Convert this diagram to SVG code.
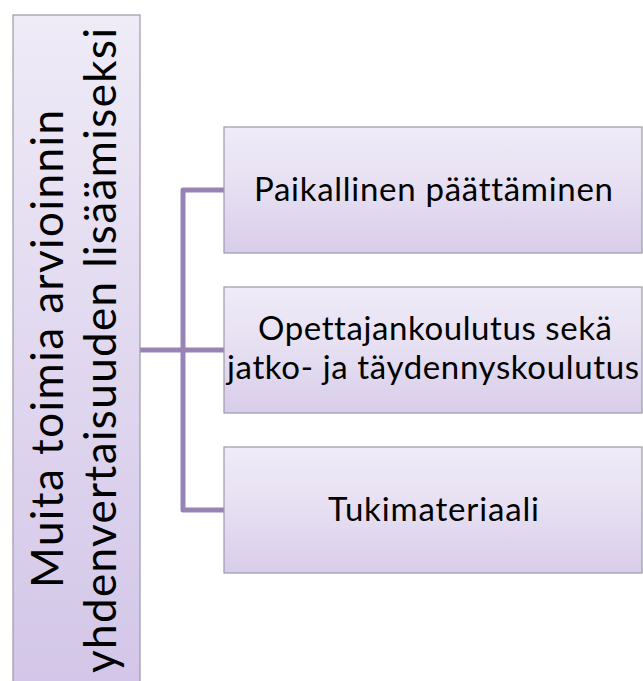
<svg xmlns="http://www.w3.org/2000/svg" width="643" height="681" viewBox="0 0 643 681">
  <defs>
    <linearGradient id="gBox" x1="0" y1="0" x2="0" y2="1">
      <stop offset="0" stop-color="#efebf7"/>
      <stop offset="0.5" stop-color="#e6dff2"/>
      <stop offset="1" stop-color="#d8cdea"/>
    </linearGradient>
    <linearGradient id="gRoot" gradientUnits="userSpaceOnUse" x1="0" y1="15" x2="0" y2="681">
      <stop offset="0" stop-color="#efebf7"/>
      <stop offset="1" stop-color="#d3c6e8"/>
    </linearGradient>
    <style>
      .box { stroke: #9e98a8; stroke-width: 1.2; }
      .lbl { font-family: Lato, "Open Sans", "Liberation Sans", sans-serif; fill: #000; text-anchor: middle; font-variant-ligatures: none; }
      .big { font-size: 44px; }
      .small { font-size: 33px; }
      .conn { fill: none; stroke: #9883b5; stroke-width: 5; stroke-linejoin: round; stroke-linecap: butt; }
    </style>
  </defs>
  <rect width="643" height="681" fill="#ffffff"/>

  <g id="connectors">
    <path class="conn" d="M140,350 H224"/>
    <path class="conn" d="M224,190 H183 V510 H224"/>
  </g>

  <g id="root">
    <rect class="box" x="13" y="15" width="127" height="700" fill="url(#gRoot)"/>
    <text class="lbl big" transform="translate(63,349) rotate(-90)" textLength="478">Muita toimia arvioinnin</text>
    <text class="lbl big" transform="translate(116,350.5) rotate(-90)" textLength="645">yhdenvertaisuuden lisäämiseksi</text>
  </g>

  <g id="node1">
    <rect class="box" x="224" y="127" width="418" height="126" fill="url(#gBox)"/>
    <text class="lbl small" x="433.5" y="201" textLength="359">Paikallinen päättäminen</text>
  </g>

  <g id="node2">
    <rect class="box" x="224" y="287" width="418" height="126" fill="url(#gBox)"/>
    <text class="lbl small" x="435" y="340" textLength="354">Opettajankoulutus sekä</text>
    <text class="lbl small" x="433" y="379" textLength="412">jatko- ja täydennyskoulutus</text>
  </g>

  <g id="node3">
    <rect class="box" x="224" y="447" width="418" height="126" fill="url(#gBox)"/>
    <text class="lbl small" x="433.5" y="521" textLength="211">Tukimateriaali</text>
  </g>
</svg>
